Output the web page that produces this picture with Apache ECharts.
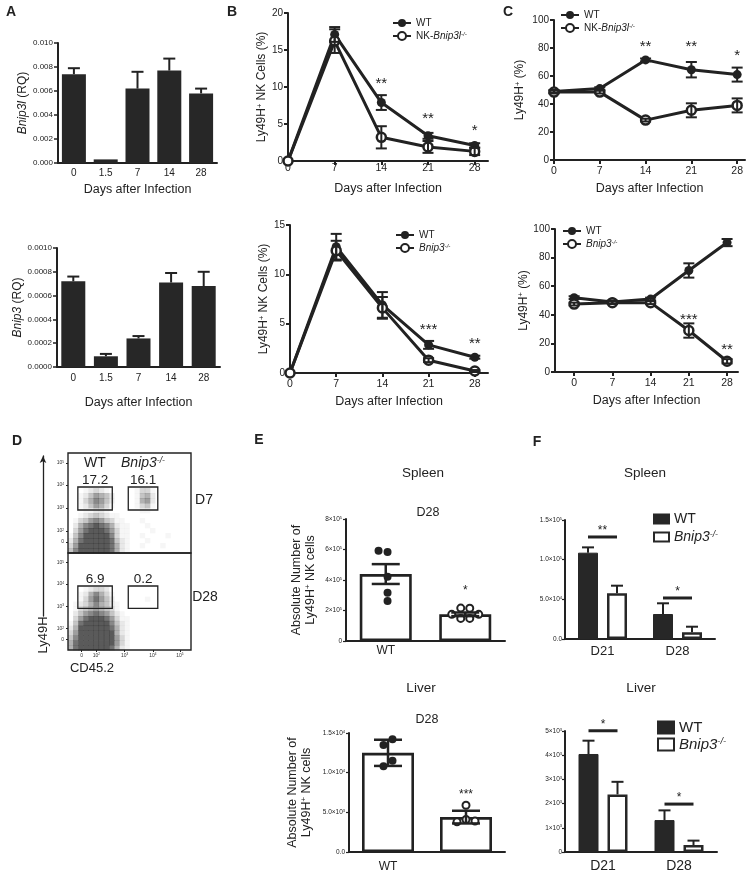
<!DOCTYPE html>
<html>
<head>
<meta charset="utf-8">
<script src="https://cdn.jsdelivr.net/npm/echarts@6/dist/echarts.min.js"></script>
<style>html,body{margin:0;padding:0;background:#fff;}#chart{width:754px;height:882px;}</style>
</head>
<body>
<div id="chart"></div>
<script>
// ================= DATA =================
// Panel A
const daysA = ['0', '1.5', '7', '14', '28'];
const bnip3lMean = [0.0074, 0.0003, 0.0062, 0.0077, 0.0058];
const bnip3lSem  = [0.0005, 0.0000, 0.0014, 0.0010, 0.0004];
const bnip3Mean  = [0.00072, 0.00009, 0.00024, 0.00071, 0.00068];
const bnip3Sem   = [0.00004, 0.00002, 0.00002, 0.00008, 0.00012];
const ticksATop    = ['0.000', '0.002', '0.004', '0.006', '0.008', '0.010'];
const ticksABottom = ['0.0000', '0.0002', '0.0004', '0.0006', '0.0008', '0.0010'];

// Panel B
const daysB = [0, 7, 14, 21, 28];
const bTopWT    = [0, 17.1, 7.9, 3.4, 2.1];
const bTopWTSem = [0, 1.0, 1.0, 0.4, 0.3];
const bTopKO    = [0, 16.2, 3.2, 1.9, 1.3];
const bTopKOSem = [0, 1.6, 1.5, 0.8, 0.5];
const bTopStarDays  = [14, 21, 28];
const bTopStarText  = ['**', '**', '*'];
const bTopStarLevel = [10.9, 6.2, 4.6];
const bBotWT    = [0, 12.8, 6.9, 2.85, 1.6];
const bBotWTSem = [0, 1.3, 1.3, 0.4, 0.15];
const bBotKO    = [0, 12.4, 6.6, 1.3, 0.2];
const bBotKOSem = [0, 1.0, 1.1, 0.2, 0.1];
const bBotStarDays  = [21, 28];
const bBotStarText  = ['***', '**'];
const bBotStarLevel = [4.8, 3.4];
const ticksBTop = ['0', '5', '10', '15', '20'];
const ticksBBot = ['0', '5', '10', '15'];

// Panel C
const cTopWT    = [49, 51, 71.5, 64.5, 61];
const cTopWTSem = [1, 1, 1, 5.5, 5];
const cTopKO    = [48.5, 48.5, 28.5, 35.5, 39];
const cTopKOSem = [1, 1, 1, 5, 5];
const cTopStarDays  = [14, 21, 28];
const cTopStarText  = ['**', '**', '*'];
const cTopStarLevel = [83.5, 83.5, 77];
const cBotWT    = [52, 49, 51, 71, 90.5];
const cBotWTSem = [1, 1, 1, 5, 2.5];
const cBotKO    = [47.5, 48.5, 48.5, 29, 7.5];
const cBotKOSem = [1, 1, 1, 5, 1.5];
const cBotStarDays  = [21, 28];
const cBotStarText  = ['***', '**'];
const cBotStarLevel = [39, 18];
const ticksC = ['0', '20', '40', '60', '80', '100'];

// Panel D (flow cytometry, density levels 0-9 read per cell, rows top->bottom)
const flowD7 = [
  '000000000000000000000000','000000000000000000000000','000000000000000000000000',
  '000000000000000000000000','000000000000000000000000','000000000000000000000000',
  '000000000000000000000000',
  '000123210000013310000000',
  '001246542000014520000000',
  '001357642000015620000000',
  '001246531000013410000000',
  '000112210000001100000000',
  '001234321100000000000000',
  '013467643110001000000000',
  '025789875211000100000000',
  '036899986311000010000000',
  '147999997311001000010000',
  '258999998421000100000000',
  '369999998521001000100000',
  '479999998521000000000000'
];
const flowD28 = [
  '000000000000000000000000','000000000000000000000000','000000000000000000000000',
  '000000000000000000000000','000000000000000000000000','000000000000000000000000',
  '000000000000000000000000',
  '000123320000000000000000',
  '001257531000000000000000',
  '001368642000000100000000',
  '012357542100000000000000',
  '013456543100000000000000',
  '024678764210000000000000',
  '036899986311000000000000',
  '148999997421000000000000',
  '259999998521000000000000',
  '369999999521000000000000',
  '479999999631000000000000',
  '589999999631000000000000',
  '589999998521000000000000'
];
const flowTickLabels = ['0', '10^2', '10^3', '10^4', '10^5'];
const flowTickValsY = [11, 22, 45, 68, 90];
const flowTickValsX = [11, 23, 46, 69, 91];
const gateX = [[8, 36], [49, 73]];
const gateY = [43, 66];
const gatePctD7 = ['17.2', '16.1'];
const gatePctD28 = ['6.9', '0.2'];

// Panel E
const eCats = ['WT', 'NK-Bnip3l'];
const eCatLabels = ['WT', 'NK-{i|Bnip3l}{si|-/-}'];
const eSpleenDots = [[5.84e5, 5.92e5, 4.22e5, 3.17e5, 2.62e5], [2.15e5, 2.16e5, 1.75e5, 1.48e5, 1.48e5, 1.75e5]];
const eSpleenMean = [4.39e5, 1.75e5];
const eSpleenErr  = [0.65e5, 0.12e5];
const eSpleenSig  = ['', '*'];
const eSpleenSigLevel = [0, 3.5e5];
const eLiverDots  = [[1.42e4, 1.35e4, 1.15e4, 1.08e4], [5.9e3, 4.1e3, 3.8e3, 3.9e3]];
const eLiverMean  = [1.25e4, 4.4e3];
const eLiverErr   = [1.65e3, 0.8e3];
const eLiverSig   = ['', '***'];
const eLiverSigLevel = [0, 7.6e3];
const ticksETop = ['0', '2×10^5', '4×10^5', '6×10^5', '8×10^5'];
const ticksEBot = ['0.0', '5.0×10^3', '1.0×10^4', '1.5×10^4'];

// Panel F
const fCats = ['D21', 'D28'];
const fSpleenWT = [1.088e5, 3.15e4];
const fSpleenWTSem = [6.7e3, 1.35e4];
const fSpleenKO = [5.76e4, 8.4e3];
const fSpleenKOSem = [9.6e3, 7.1e3];
const fSpleenSig = ['**', '*'];
const fSpleenSigLevel = [1.286e5, 5.17e4];
const fLiverWT = [4.05e3, 1.32e3];
const fLiverWTSem = [550, 400];
const fLiverKO = [2.38e3, 290];
const fLiverKOSem = [520, 180];
const fLiverSig = ['*', '*'];
const fLiverSigLevel = [5.01e3, 1.98e3];
const ticksFTop = ['0.0', '5.0×10^4', '1.0×10^5', '1.5×10^5'];
const ticksFBot = ['0', '1×10^3', '2×10^3', '3×10^3', '4×10^3', '5×10^3'];

// ================= HELPERS =================
const FONT = '"Liberation Sans", Arial, Helvetica, sans-serif';
const INK = '#222';
const BAR = '#272727';
const grids = [], xAxes = [], yAxes = [], series = [], legends = [], graphics = [];

function richSet(fs) {
  const b = {fontFamily: FONT, color: INK};
  return {
    n: Object.assign({fontSize: fs}, b),
    i: Object.assign({fontSize: fs, fontStyle: 'italic'}, b),
    s: Object.assign({fontSize: Math.max(3, fs * 0.62), verticalAlign: 'top'}, b),
    si: Object.assign({fontSize: Math.max(3, fs * 0.62), verticalAlign: 'top', fontStyle: 'italic'}, b)
  };
}
function supText(s) { return s.replace(/\^(\S+)$/, '{s|$1}'); }
function addGrid(g) { grids.push(Object.assign({outerBoundsMode: 'none', containLabel: false}, g)); return grids.length - 1; }
function addX(a) { xAxes.push(a); return xAxes.length - 1; }
function addY(a) { yAxes.push(a); return yAxes.length - 1; }
function line(w) { return {show: true, onZero: false, lineStyle: {color: INK, width: w}}; }
function txt(x, y, text, fs, extra) {
  graphics.push(Object.assign({type: 'text', x: x, y: y, silent: true,
    style: Object.assign({text: text, fontSize: fs, fontFamily: FONT, fill: INK,
      align: 'center', verticalAlign: 'middle', textAlign: 'center', textVerticalAlign: 'middle', rich: richSet(fs)}, (extra && extra.style) || {})},
    extra && extra.el ? extra.el : {}));
}

function errSeries(xi, yi, xs, means, sems, o) {
  return {
    type: 'custom', xAxisIndex: xi, yAxisIndex: yi, z: o.z || 5, silent: true,
    data: xs.map((x, i) => [x, means[i], sems[i]]), encode: {x: 0, y: 1},
    renderItem(params, api) {
      const x = api.value(0), m = api.value(1), s = api.value(2);
      if (!s) return {type: 'group', children: []};
      const pm = api.coord([x, m]), ph = api.coord([x, m + s]), pl = api.coord([x, m - s]);
      const cx = pm[0] + (o.dx || 0), hw = o.cap / 2;
      const st = {stroke: INK, lineWidth: o.lw || 2, fill: null};
      const ch = [
        {type: 'line', shape: {x1: cx, y1: o.upOnly ? pm[1] : pl[1], x2: cx, y2: ph[1]}, style: st},
        {type: 'line', shape: {x1: cx - hw, y1: ph[1], x2: cx + hw, y2: ph[1]}, style: st}
      ];
      if (!o.upOnly) ch.push({type: 'line', shape: {x1: cx - hw, y1: pl[1], x2: cx + hw, y2: pl[1]}, style: st});
      return {type: 'group', children: ch};
    }
  };
}
function textSeries(xi, yi, xs, ys, texts, o) {
  return {
    type: 'custom', xAxisIndex: xi, yAxisIndex: yi, z: 6, silent: true,
    data: xs.map((x, i) => [x, ys[i], i]), encode: {x: 0, y: 1},
    renderItem(params, api) {
      const k = api.value(2);
      if (!texts[k]) return {type: 'group', children: []};
      const p = api.coord([api.value(0), api.value(1)]);
      return {type: 'text', x: p[0], y: p[1] + (o.dy || 0),
        style: {text: texts[k], fill: INK, fontSize: o.fs, fontFamily: FONT,
          align: 'center', verticalAlign: 'middle', textAlign: 'center', textVerticalAlign: 'middle'}};
    }
  };
}

// ================= PANEL A =================
function barChartA(gr, means, sems, ticks, yname, ymax, yint, o) {
  const g = addGrid(gr);
  const xi = addX({type: 'category', gridIndex: g, data: daysA, axisLine: line(2), axisTick: {show: false},
    splitLine: {show: false}, axisLabel: {fontSize: 10, color: INK, margin: o.xMargin},
    name: 'Days after Infection', nameLocation: 'middle', nameGap: o.nameGap,
    nameTextStyle: {fontSize: 12.5, color: INK}});
  const yi = addY({type: 'value', gridIndex: g, min: 0, max: ymax, interval: yint, axisLine: line(2),
    axisTick: {show: true, length: 4, lineStyle: {color: INK, width: 1.5}}, splitLine: {show: false},
    axisLabel: {fontSize: 8, color: INK, margin: 5, formatter: v => ticks[Math.round(v / yint)]},
    name: yname, nameLocation: 'middle', nameGap: o.yNameGap,
    nameTextStyle: {fontSize: 12, color: INK, rich: richSet(12)}});
  series.push({type: 'bar', xAxisIndex: xi, yAxisIndex: yi, data: means, barWidth: 24, itemStyle: {color: BAR}, z: 3});
  series.push(errSeries(xi, yi, daysA.map((_, i) => i), means, sems, {cap: 12, lw: 2, upOnly: true}));
}
barChartA({left: 58, top: 43, width: 159, height: 120}, bnip3lMean, bnip3lSem, ticksATop,
  '{i|Bnip3l} (RQ)', 0.010, 0.002, {xMargin: 5, nameGap: 20, yNameGap: 28});
barChartA({left: 57, top: 248, width: 163, height: 119}, bnip3Mean, bnip3Sem, ticksABottom,
  '{i|Bnip3} (RQ)', 0.0010, 0.0002, {xMargin: 6, nameGap: 29, yNameGap: 32});

// ================= PANELS B, C =================
function lineChart(gr, c) {
  const g = addGrid(gr);
  const xi = addX({type: 'value', gridIndex: g, min: c.xmin, max: c.xmax, axisLine: line(2), splitLine: {show: false},
    axisTick: {show: true, customValues: daysB, length: 4, lineStyle: {color: INK, width: 2}},
    axisLabel: {customValues: daysB, fontSize: 10.5, color: INK, margin: c.xMargin},
    name: 'Days after Infection', nameLocation: 'middle', nameGap: c.nameGap,
    nameTextStyle: {fontSize: 12.5, color: INK}});
  const yi = addY({type: 'value', gridIndex: g, min: 0, max: c.ymax, interval: c.yint, axisLine: line(2),
    axisTick: {show: true, length: 4, lineStyle: {color: INK, width: 2}}, splitLine: {show: false},
    axisLabel: {fontSize: 10, color: INK, margin: 5, formatter: v => c.ticks[Math.round(v / c.yint)]},
    name: c.yname, nameLocation: 'middle', nameGap: c.yNameGap,
    nameTextStyle: {fontSize: 12, color: INK, rich: richSet(12)}});
  series.push({type: 'line', name: c.wtName, xAxisIndex: xi, yAxisIndex: yi, z: 3,
    data: daysB.map((d, i) => [d, c.wt[i]]), symbol: 'circle', symbolSize: 9,
    lineStyle: {color: INK, width: 3}, itemStyle: {color: INK, borderColor: INK, borderWidth: 0}});
  series.push({type: 'line', name: c.koName, xAxisIndex: xi, yAxisIndex: yi, z: 3,
    data: daysB.map((d, i) => [d, c.ko[i]]), symbol: 'circle', symbolSize: 9,
    lineStyle: {color: INK, width: 3}, itemStyle: {color: '#fff', borderColor: INK, borderWidth: 2.5}});
  series.push(errSeries(xi, yi, daysB, c.wt, c.wtSem, {cap: 11, lw: 2}));
  series.push(errSeries(xi, yi, daysB, c.ko, c.koSem, {cap: 11, lw: 2}));
  series.push(textSeries(xi, yi, c.starDays, c.starLevel, c.starText, {fs: 15, dy: 4}));
  legends.push(Object.assign({orient: 'vertical', padding: 0, itemGap: 3, itemWidth: 18, itemHeight: 10,
    selectedMode: false, data: [c.wtName, c.koName], formatter: n => legendNames[n],
    textStyle: {fontSize: 10, color: INK, fontFamily: FONT, rich: richSet(10)}}, c.legendPos));
}
const legendNames = {
  WT_B1: 'WT', KO_B1: 'NK-{i|Bnip3l}{si|-/-}', WT_B2: 'WT', KO_B2: '{i|Bnip3}{si|-/-}',
  WT_C1: 'WT', KO_C1: 'NK-{i|Bnip3l}{si|-/-}', WT_C2: 'WT', KO_C2: '{i|Bnip3}{si|-/-}',
  WT_F1: 'WT', KO_F1: '{i|Bnip3}{si|-/-}', WT_F2: 'WT', KO_F2: '{i|Bnip3}{si|-/-}'
};
lineChart({left: 288, top: 13, width: 200, height: 148}, {xmin: 0, xmax: 30, ymax: 20, yint: 5, ticks: ticksBTop,
  yname: 'Ly49H{s|+} NK Cells (%)', yNameGap: 20, xMargin: 2, nameGap: 21,
  wt: bTopWT, wtSem: bTopWTSem, ko: bTopKO, koSem: bTopKOSem, wtName: 'WT_B1', koName: 'KO_B1',
  starDays: bTopStarDays, starText: bTopStarText, starLevel: bTopStarLevel, legendPos: {left: 392, top: 18}});
lineChart({left: 290, top: 225, width: 198, height: 148}, {xmin: 0, xmax: 30, ymax: 15, yint: 5, ticks: ticksBBot,
  yname: 'Ly49H{s|+} NK Cells (%)', yNameGap: 20, xMargin: 6, nameGap: 22,
  wt: bBotWT, wtSem: bBotWTSem, ko: bBotKO, koSem: bBotKOSem, wtName: 'WT_B2', koName: 'KO_B2',
  starDays: bBotStarDays, starText: bBotStarText, starLevel: bBotStarLevel, legendPos: {left: 395, top: 230}});
lineChart({left: 554, top: 20, width: 191, height: 140}, {xmin: 0, xmax: 29.2, ymax: 100, yint: 20, ticks: ticksC,
  yname: 'Ly49H{s|+} (%)', yNameGap: 28, xMargin: 6, nameGap: 22,
  wt: cTopWT, wtSem: cTopWTSem, ko: cTopKO, koSem: cTopKOSem, wtName: 'WT_C1', koName: 'KO_C1',
  starDays: cTopStarDays, starText: cTopStarText, starLevel: cTopStarLevel, legendPos: {left: 560, top: 10}});
lineChart({left: 555, top: 229, width: 183, height: 143}, {xmin: -3.5, xmax: 30, ymax: 100, yint: 20, ticks: ticksC,
  yname: 'Ly49H{s|+} (%)', yNameGap: 24, xMargin: 6, nameGap: 22,
  wt: cBotWT, wtSem: cBotWTSem, ko: cBotKO, koSem: cBotKOSem, wtName: 'WT_C2', koName: 'KO_C2',
  starDays: cBotStarDays, starText: cBotStarText, starLevel: cBotStarLevel, legendPos: {left: 562, top: 226}});

// ================= PANEL D =================
function flowCells(rows) {
  const out = [];
  rows.forEach((s, r) => { for (let c = 0; c < s.length; c++) { const d = +s[c]; if (d > 0) out.push([c, r, d]); } });
  return out;
}
function flowPanel(gr, rows, pcts, showX) {
  const nCols = rows[0].length, nRows = rows.length;
  const g = addGrid(Object.assign({show: true, borderColor: INK, borderWidth: 1.4, backgroundColor: 'transparent'}, gr));
  const xi = addX({type: 'value', gridIndex: g, min: 0, max: 100, axisLine: {show: false}, splitLine: {show: false},
    axisTick: {show: showX, customValues: flowTickValsX, length: 2, lineStyle: {color: INK, width: 1}},
    axisLabel: {show: showX, customValues: flowTickValsX, fontSize: 5, margin: 3, color: '#333', rich: richSet(5),
      formatter: v => supText(flowTickLabels[flowTickValsX.indexOf(v)] || '')}});
  const yi = addY({type: 'value', gridIndex: g, min: 0, max: 100, axisLine: {show: false}, splitLine: {show: false},
    axisTick: {show: true, customValues: flowTickValsY, length: 2, lineStyle: {color: INK, width: 1}},
    axisLabel: {customValues: flowTickValsY, fontSize: 5, margin: 4, color: '#333', rich: richSet(5),
      formatter: v => supText(flowTickLabels[flowTickValsY.indexOf(v)] || '')}});
  series.push({type: 'custom', xAxisIndex: xi, yAxisIndex: yi, z: 2, silent: true,
    data: flowCells(rows), encode: {x: 0, y: 1},
    renderItem(params, api) {
      const c = api.value(0), r = api.value(1), d = api.value(2);
      const p0 = api.coord([c * 100 / nCols, 100 - r * 100 / nRows]);
      const p1 = api.coord([(c + 1) * 100 / nCols, 100 - (r + 1) * 100 / nRows]);
      const a = Math.pow(d / 9, 1.3) * 0.75;
      return {type: 'rect', shape: {x: p0[0], y: p0[1], width: p1[0] - p0[0] + 0.3, height: p1[1] - p0[1] + 0.3},
        style: {fill: 'rgba(35,35,35,' + a.toFixed(3) + ')'}};
    }});
  series.push({type: 'custom', xAxisIndex: xi, yAxisIndex: yi, z: 4, silent: true,
    data: gateX.map((gx, k) => [gx[0], gateY[0], gx[1], gateY[1], k]), encode: {x: 0, y: 1},
    renderItem(params, api) {
      const a = api.coord([api.value(0), api.value(3)]), b = api.coord([api.value(2), api.value(1)]);
      return {type: 'group', children: [
        {type: 'rect', shape: {x: a[0], y: a[1], width: b[0] - a[0], height: b[1] - a[1]},
          style: {fill: null, stroke: INK, lineWidth: 1.3}},
        {type: 'text', x: (a[0] + b[0]) / 2, y: a[1] - 7,
          style: {text: pcts[api.value(4)], fontSize: 13.5, fontFamily: FONT, fill: INK,
            align: 'center', verticalAlign: 'middle', textAlign: 'center', textVerticalAlign: 'middle'}}
      ]};
    }});
}
flowPanel({left: 68, top: 453, width: 123, height: 100}, flowD7, gatePctD7, false);
flowPanel({left: 68, top: 553, width: 123, height: 97}, flowD28, gatePctD28, true);
// Ly49H arrow axis
(function () {
  const g = addGrid({left: 43, top: 456, width: 1, height: 160});
  addX({type: 'value', gridIndex: g, show: false});
  addY({type: 'value', gridIndex: g, axisLine: {show: true, onZero: false, symbol: ['none', 'arrow'], symbolSize: [5, 7],
    lineStyle: {color: INK, width: 1.3}}, axisTick: {show: false}, axisLabel: {show: false}, splitLine: {show: false}});
})();

// ================= PANEL E =================
function dotSeries(xi, yi, groups) {
  return {type: 'custom', xAxisIndex: xi, yAxisIndex: yi, z: 4, silent: true,
    data: groups.map((gv, i) => [i, Math.max.apply(null, gv)]), encode: {x: 0, y: 1},
    renderItem(params, api) {
      const i = api.value(0), vals = groups[i];
      const cx = api.coord([i, 0])[0];
      const r = 4, minD = 8.2, step = 4.5;
      const placed = [];
      vals.forEach(v => {
        const y = api.coord([i, v])[1];
        const cands = [0];
        for (let k = 1; k < 10; k++) cands.push(-k * step, k * step);
        let off = 0;
        for (const cd of cands) {
          if (placed.every(p => Math.hypot(p.x - cd, p.y - y) >= minD)) { off = cd; break; }
        }
        placed.push({x: off, y: y});
      });
      const mean = placed.reduce((s, p) => s + p.x, 0) / placed.length;
      const filled = i === 0;
      return {type: 'group', children: placed.map(p => ({type: 'circle',
        shape: {cx: cx + p.x - mean, cy: p.y, r: filled ? r : r - 0.5},
        style: filled ? {fill: INK} : {fill: '#fff', stroke: INK, lineWidth: 2}}))};
    }};
}
function eChart(gr, dots, means, errs, ticks, ymax, yint, sig, sigLevel, o) {
  const g = addGrid(gr);
  const xi = addX({type: 'category', gridIndex: g, data: eCats, axisLine: line(2), axisTick: {show: false},
    splitLine: {show: false}, axisLabel: {fontSize: 12, color: INK, margin: o.xMargin, rich: richSet(12),
      formatter: v => eCatLabels[eCats.indexOf(v)]}});
  const yi = addY({type: 'value', gridIndex: g, min: 0, max: ymax, interval: yint, axisLine: line(2),
    axisTick: {show: true, length: 3, lineStyle: {color: INK, width: 1.2}}, splitLine: {show: false},
    axisLabel: {fontSize: 6.5, color: INK, margin: 4, rich: richSet(6.5), formatter: v => supText(ticks[Math.round(v / yint)])},
    name: 'Absolute Number of\nLy49H{s|+} NK cells', nameLocation: 'middle', nameGap: o.yNameGap,
    nameTextStyle: {fontSize: 12.5, color: INK, lineHeight: 14, rich: richSet(12.5)}});
  series.push({type: 'bar', xAxisIndex: xi, yAxisIndex: yi, data: means, barWidth: 52, z: 2,
    itemStyle: {color: '#fff', borderColor: INK, borderWidth: 2.6}});
  series.push(dotSeries(xi, yi, dots));
  series.push(errSeries(xi, yi, [0, 1], means, errs, {cap: 28, lw: 2.5}));
  series.push(textSeries(xi, yi, [0, 1], sigLevel, sig, {fs: 12, dy: 3}));
}
eChart({left: 346, top: 519, width: 159, height: 122}, eSpleenDots, eSpleenMean, eSpleenErr, ticksETop,
  8e5, 2e5, eSpleenSig, eSpleenSigLevel, {xMargin: 4, yNameGap: 28});
eChart({left: 349, top: 733, width: 156, height: 119}, eLiverDots, eLiverMean, eLiverErr, ticksEBot,
  1.5e4, 5e3, eLiverSig, eLiverSigLevel, {xMargin: 9, yNameGap: 35});

// ================= PANEL F =================
function fChart(gr, wt, wtSem, ko, koSem, sig, sigLevel, ticks, ymax, yint, o) {
  const g = addGrid(gr);
  const xi = addX({type: 'category', gridIndex: g, data: fCats, axisLine: line(2), axisTick: {show: false},
    splitLine: {show: false}, axisLabel: {fontSize: o.catFs, color: INK, margin: o.xMargin}});
  const yi = addY({type: 'value', gridIndex: g, min: 0, max: ymax, interval: yint, axisLine: line(2),
    axisTick: {show: true, length: 3, lineStyle: {color: INK, width: 1.2}}, splitLine: {show: false},
    axisLabel: {fontSize: 6.5, color: INK, margin: 3, rich: richSet(6.5), formatter: v => supText(ticks[Math.round(v / yint)])}});
  series.push({type: 'bar', name: o.wtName, xAxisIndex: xi, yAxisIndex: yi, data: wt, barWidth: 20, barGap: '45%', z: 2,
    itemStyle: {color: BAR, borderColor: BAR, borderWidth: 1}});
  series.push({type: 'bar', name: o.koName, xAxisIndex: xi, yAxisIndex: yi, data: ko, barWidth: 20, barGap: '45%', z: 2,
    itemStyle: {color: '#fff', borderColor: BAR, borderWidth: 2.5}});
  series.push(errSeries(xi, yi, [0, 1], wt, wtSem, {cap: 12, lw: 2, upOnly: true, dx: -14.5}));
  series.push(errSeries(xi, yi, [0, 1], ko, koSem, {cap: 12, lw: 2, upOnly: true, dx: 14.5}));
  series.push({type: 'custom', xAxisIndex: xi, yAxisIndex: yi, z: 6, silent: true,
    data: sigLevel.map((lv, i) => [i, lv, i]), encode: {x: 0, y: 1},
    renderItem(params, api) {
      const p = api.coord([api.value(0), api.value(1)]);
      return {type: 'group', children: [
        {type: 'line', shape: {x1: p[0] - 14.5, y1: p[1], x2: p[0] + 14.5, y2: p[1]}, style: {stroke: INK, lineWidth: 3}},
        {type: 'text', x: p[0], y: p[1] - 6, style: {text: sig[api.value(2)], fontSize: 12, fontFamily: FONT, fill: INK,
          align: 'center', verticalAlign: 'middle', textAlign: 'center', textVerticalAlign: 'middle'}}
      ]};
    }});
  legends.push(Object.assign({orient: 'vertical', padding: 0, icon: 'rect', selectedMode: false,
    data: [o.wtName, o.koName], formatter: n => legendNames[n],
    textStyle: {fontSize: o.legFs, color: INK, fontFamily: FONT, rich: richSet(o.legFs)}}, o.legend));
}
fChart({left: 565, top: 520, width: 150, height: 119}, fSpleenWT, fSpleenWTSem, fSpleenKO, fSpleenKOSem,
  fSpleenSig, fSpleenSigLevel, ticksFTop, 1.5e5, 5e4,
  {catFs: 13, xMargin: 6, wtName: 'WT_F1', koName: 'KO_F1', legFs: 14,
   legend: {left: 653, top: 512, itemWidth: 15, itemHeight: 9, itemGap: 4}});
fChart({left: 565, top: 731, width: 152, height: 121}, fLiverWT, fLiverWTSem, fLiverKO, fLiverKOSem,
  fLiverSig, fLiverSigLevel, ticksFBot, 5e3, 1e3,
  {catFs: 14, xMargin: 7, wtName: 'WT_F2', koName: 'KO_F2', legFs: 15,
   legend: {left: 657, top: 720, itemWidth: 16, itemHeight: 12, itemGap: 2}});

// ================= STATIC TEXT =================
[['A', 11, 12], ['B', 232, 12], ['C', 508, 12], ['D', 17, 441], ['E', 259, 440], ['F', 537, 442]].forEach(t =>
  txt(t[1], t[2], t[0], 14, {style: {fontWeight: 'bold'}}));
txt(95, 463, 'WT', 14);
txt(143, 463, '{i|Bnip3}{si|-/-}', 14);
txt(204, 500, 'D7', 14);
txt(205, 597, 'D28', 14);
txt(92, 668, 'CD45.2', 13);
txt(43, 635, 'Ly49H', 13, {el: {rotation: Math.PI / 2}});
txt(423, 473, 'Spleen', 13.5);
txt(428, 513, 'D28', 12.5);
txt(421, 688, 'Liver', 13.5);
txt(427, 720, 'D28', 12.5);
txt(645, 473, 'Spleen', 13.5);
txt(641, 688, 'Liver', 13.5);

// ================= CHART =================
const chart = echarts.init(document.getElementById('chart'), null, {renderer: 'canvas'});
chart.setOption({
  animation: false,
  backgroundColor: '#fff',
  textStyle: {fontFamily: FONT, color: INK},
  grid: grids, xAxis: xAxes, yAxis: yAxes, legend: legends, series: series,
  graphic: graphics
});
</script>
</body>
</html>
